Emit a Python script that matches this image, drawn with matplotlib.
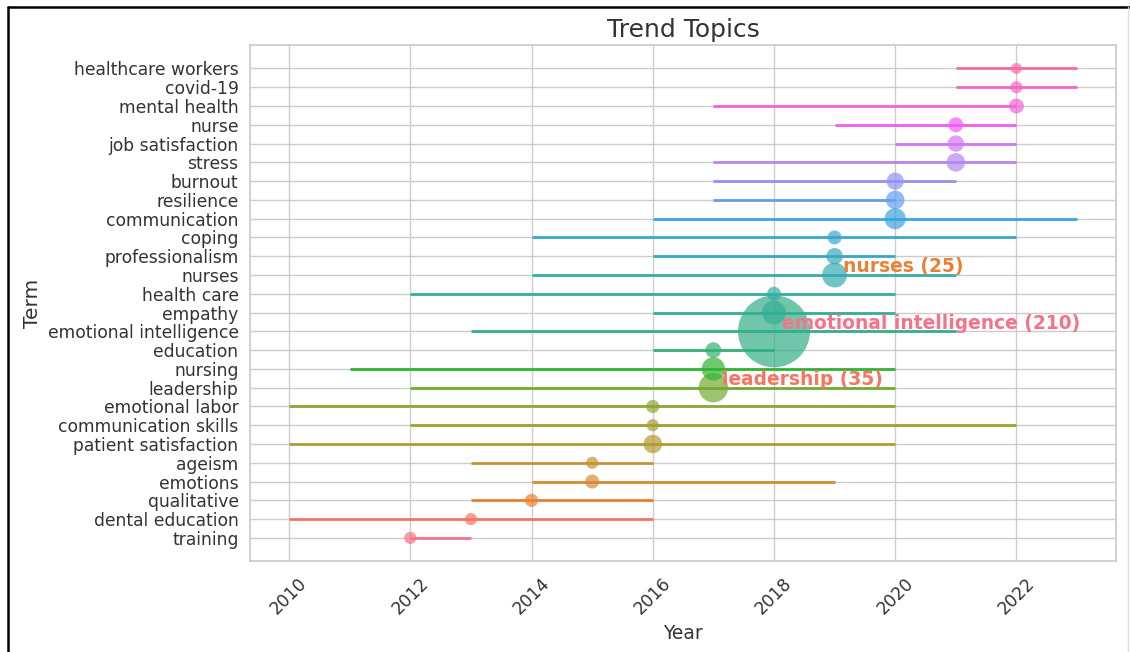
import matplotlib
matplotlib.use("Agg")
import matplotlib.pyplot as plt
import seaborn as sns
from matplotlib.lines import Line2D

# Trend topics: first year, median year, last year and frequency of each term
terms = [
    "training", "dental education", "qualitative", "emotions", "ageism",
    "patient satisfaction", "communication skills", "emotional labor",
    "leadership", "nursing", "education", "emotional intelligence",
    "empathy", "health care", "nurses", "professionalism", "coping",
    "communication", "resilience", "burnout", "stress", "job satisfaction",
    "nurse", "mental health", "covid-19", "healthcare workers",
]
year_start = [2012, 2010, 2013, 2014, 2013, 2010, 2012, 2010, 2012, 2011, 2016, 2013,
              2016, 2012, 2014, 2016, 2014, 2016, 2017, 2017, 2017, 2020, 2019, 2017,
              2021, 2021]
year_median = [2012, 2013, 2014, 2015, 2015, 2016, 2016, 2016, 2017, 2017, 2017, 2018,
               2018, 2018, 2019, 2019, 2019, 2020, 2020, 2020, 2021, 2021, 2021, 2022,
               2022, 2022]
year_end = [2013, 2016, 2016, 2019, 2016, 2020, 2022, 2020, 2020, 2020, 2018, 2021,
            2020, 2020, 2021, 2020, 2022, 2023, 2020, 2021, 2022, 2022, 2022, 2022,
            2023, 2023]
freq = [6, 6, 7, 8, 6, 14, 6, 7, 35, 22, 10, 210,
        23, 8, 25, 11, 8, 18, 14, 12, 14, 11, 9, 9,
        6, 5]

sns.set_theme(style="whitegrid")
plt.rcParams["font.family"] = ["DejaVu Sans"]

fig = plt.figure(figsize=(11.3, 6.52), dpi=100)
ax = fig.add_axes([0.221, 0.139, 0.767, 0.792])

colors = sns.color_palette("husl", len(terms))
size_scale = 12.8

for i, term in enumerate(terms):
    ax.hlines(i, year_start[i], year_end[i], color=colors[i], linewidth=2, zorder=2)
    ax.scatter(year_median[i], i, s=freq[i] * size_scale, color=colors[i],
               alpha=0.7, edgecolors="none", zorder=3)

# Label the three most frequent terms
top = sorted(range(len(terms)), key=lambda k: freq[k], reverse=True)[:3]
for rank, k in enumerate(top):
    ax.annotate(f"{terms[k]} ({freq[k]})", (year_median[k], k),
                xytext=(6, 6), textcoords="offset points",
                ha="left", va="center", fontsize=13.4, fontweight="bold",
                color=colors[rank], zorder=5)

ax.set_yticks(range(len(terms)))
ax.set_yticklabels(terms, fontsize=12.3)
ax.set_xticks([2010, 2012, 2014, 2016, 2018, 2020, 2022])
ax.tick_params(axis="x", labelsize=12.3, labelrotation=45)
ax.tick_params(axis="y", pad=2)
ax.tick_params(colors="#333333")
ax.set_xlabel("Year", fontsize=13.5, color="#333333")
ax.set_ylabel("Term", fontsize=14.5, color="#333333")
ax.set_title("Trend Topics", fontsize=18, color="#333333")
ax.margins(x=0.05, y=0.05)

# Frame around the figure
fig.add_artist(Line2D([0.007, 0.007], [0.0, 0.99], color="black", linewidth=1.8,
                      transform=fig.transFigure))
fig.add_artist(Line2D([0.007, 1.0], [0.99, 0.99], color="black", linewidth=1.8,
                      transform=fig.transFigure))
fig.add_artist(Line2D([0.9985, 0.9985], [0.0, 0.99], color="#dddddd", linewidth=1,
                      transform=fig.transFigure))

fig.savefig("out.png", dpi=100)
